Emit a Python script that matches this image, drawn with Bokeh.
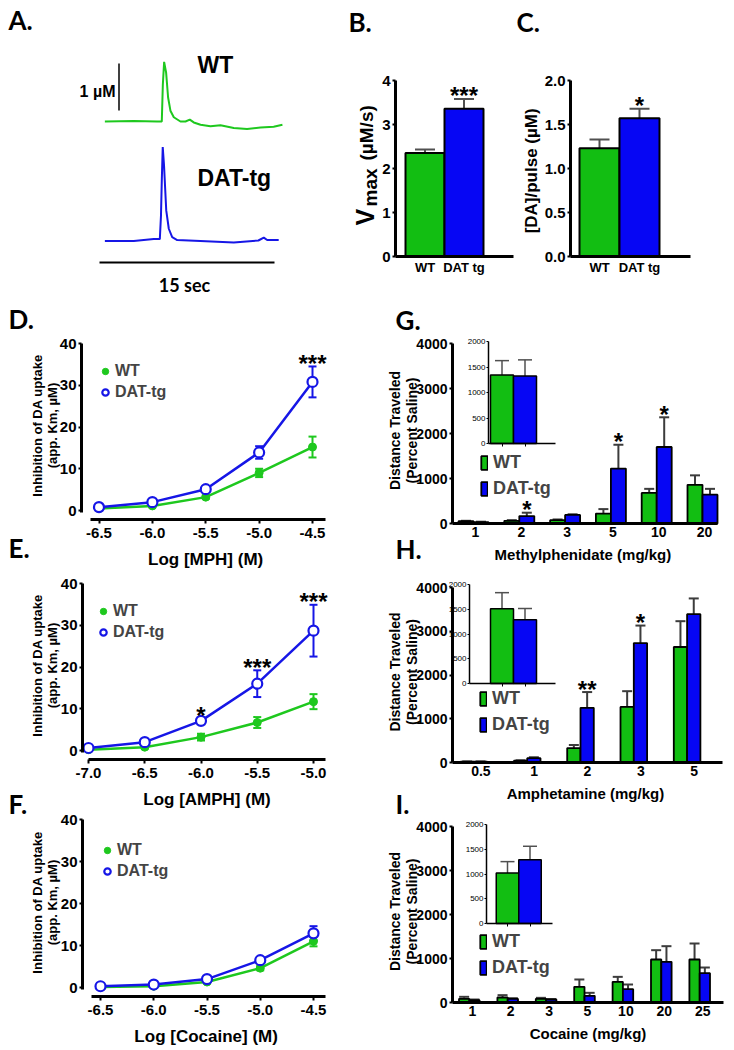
import math
from bokeh.plotting import figure
from bokeh.models import Range1d, Label, Legend, LegendItem, LinearAxis, FixedTicker
from bokeh.embed import file_html
from bokeh.resources import INLINE
from bokeh.core.properties import value

ARIAL = "Liberation Sans"
CAL = "Lato"
GREEN_BAR = "#12BE12"
BLUE_BAR = "#0606F4"
GREEN_LINE = "#1EC81E"
BLUE_LINE = "#1616E6"
ERR = "#3C3C3C"

# ---------------- data ----------------
# A: amperometric traces (time in s, signal in µM)
trace_wt_t = [0.46, 2.94, 4.94, 5.34, 5.43, 5.54, 5.71, 5.88, 6.08, 6.37, 6.94, 7.37, 7.74, 8.08,
              8.66, 9.51, 10.37, 11.51, 12.65, 13.80, 14.93, 15.68]
trace_wt_v = [0.00, 0.01, 0.00, 0.00, 0.79, 1.27, 1.04, 0.51, 0.23, 0.09, 0.00, 0.00, 0.04, -0.02,
              -0.07, -0.10, -0.08, -0.14, -0.16, -0.13, -0.11, -0.07]
trace_dat_t = [0.46, 2.94, 4.65, 5.17, 5.27, 5.34, 5.42, 5.53, 5.72, 5.94, 6.23, 6.66, 8.65, 11.51,
               13.62, 14.08, 14.37, 15.36]
trace_dat_v = [-0.01, -0.01, 0.03, 0.03, 0.53, 1.28, 1.99, 1.60, 0.64, 0.25, 0.07, 0.01, -0.01, -0.04,
               0.00, 0.06, 0.01, 0.01]

# B / C
genotypes = ["WT", "DAT tg"]
vmax = [2.35, 3.36]
vmax_err = [0.08, 0.22]
vmax_sig = ["", "***"]
da_pulse = [1.23, 1.57]
da_pulse_err = [0.10, 0.11]
da_pulse_sig = ["", "*"]

# D: methylphenidate
log_mph = [-6.5, -6.0, -5.5, -5.0, -4.5]
log_mph_labels = ["-6.5", "-6.0", "-5.5", "-5.0", "-4.5"]
mph_wt = [0.5, 1.1, 3.2, 9.0, 15.2]
mph_wt_err = [0.3, 0.3, 0.4, 1.0, 2.5]
mph_dat = [0.8, 2.0, 5.1, 13.9, 30.8]
mph_dat_err = [0.3, 0.4, 0.6, 1.5, 3.7]
mph_sig = ["", "", "", "", "***"]

# E: amphetamine
log_amph = [-7.0, -6.5, -6.0, -5.5, -5.0]
log_amph_labels = ["-7.0", "-6.5", "-6.0", "-5.5", "-5.0"]
amph_wt = [0.2, 0.8, 3.2, 6.7, 11.7]
amph_wt_err = [0.2, 0.3, 0.8, 1.3, 1.8]
amph_dat = [0.6, 2.0, 7.1, 16.0, 28.7]
amph_dat_err = [0.3, 0.4, 0.5, 3.2, 6.2]
amph_sig = ["", "", "*", "***", "***"]

# F: cocaine
log_coc = [-6.5, -6.0, -5.5, -5.0, -4.5]
log_coc_labels = ["-6.5", "-6.0", "-5.5", "-5.0", "-4.5"]
coc_wt = [0.1, 0.3, 1.3, 4.6, 11.0]
coc_wt_err = [0.2, 0.2, 0.3, 0.5, 1.2]
coc_dat = [0.3, 0.7, 2.0, 6.5, 12.9]
coc_dat_err = [0.2, 0.2, 0.3, 0.5, 1.7]
coc_sig = ["", "", "", "", ""]

inhib_ticks = [0, 10, 20, 30, 40]

# G: methylphenidate locomotion (percent saline)
mph_doses = ["1", "2", "3", "5", "10", "20"]
g_wt = [50, 60, 75, 220, 680, 860]
g_wt_err = [10, 15, 15, 100, 90, 210]
g_dat = [30, 165, 190, 1220, 1700, 640]
g_dat_err = [10, 75, 15, 530, 660, 130]
g_sig = ["", "*", "", "*", "*", ""]
g_saline = [1345, 1325]
g_saline_err = [280, 315]

# H: amphetamine locomotion
amph_doses = ["0.5", "1", "2", "3", "5"]
h_wt = [20, 40, 330, 1270, 2640]
h_wt_err = [5, 10, 70, 360, 590]
h_dat = [20, 100, 1250, 2730, 3390]
h_dat_err = [5, 20, 360, 400, 360]
h_sig = ["", "", "**", "*", ""]
h_saline = [1510, 1290]
h_saline_err = [325, 225]

# I: cocaine locomotion
coc_doses = ["1", "2", "3", "5", "10", "20", "25"]
i_wt = [83, 114, 83, 356, 470, 977, 977]
i_wt_err = [46, 53, 23, 167, 113, 212, 364]
i_dat = [53, 83, 68, 152, 303, 924, 667]
i_dat_err = [15, 15, 10, 68, 106, 356, 128]
i_sig = ["", "", "", "", "", "", ""]
i_saline = [1020, 1290]
i_saline_err = [230, 270]

dist_ticks = [0, 1000, 2000, 3000, 4000]
inset_ticks = [0, 500, 1000, 1500, 2000]

# ---------------- canvas ----------------
W, H = 734, 1048
p = figure(width=W, height=H, x_range=Range1d(0, W), y_range=Range1d(H, 0),
           x_axis_location=None, y_axis_location=None, min_border=0,
           output_backend="svg", toolbar_location=None, title_location=None)
p.outline_line_color = None
p.background_fill_color = "white"
p.border_fill_color = "white"
for g in p.grid:
    g.visible = False
XR, YR = {}, {}


def lin(p0, v0, p1, v1):
    k = (v1 - v0) / (p1 - p0)
    return lambda pix: v0 + (pix - p0) * k


def ranges(key, fx, fy):
    XR[key + "x"] = Range1d(fx(0), fx(W))
    YR[key + "y"] = Range1d(fy(H), fy(0))
    return dict(x_range_name=key + "x", y_range_name=key + "y")


def lab(text, X, Y, size, font=ARIAL, align="left", base="middle", angle=0.0, style="bold"):
    p.add_layout(Label(x=X, y=Y, text=text, text_font=font, text_font_size=f"{size}px",
                       text_font_style=style, text_align=align, text_baseline=base,
                       angle=angle, text_color="black"))


def axis(side, r, loc, bounds, ticks, overrides=None, tick_px=15, label=None, label_px=17,
         lw=3, tick_out=3, tick_in=0, tick_lw=2, style="bold", standoff=2, label_standoff=3):
    ax = LinearAxis(fixed_location=loc, bounds=bounds, ticker=FixedTicker(ticks=ticks), **r)
    ax.axis_line_width = lw
    ax.axis_line_color = "black"
    ax.major_tick_line_width = tick_lw
    ax.major_tick_line_color = "black"
    ax.major_tick_in = tick_in
    ax.major_tick_out = tick_out
    ax.minor_tick_line_color = None
    ax.major_label_text_font = ARIAL
    ax.major_label_text_font_style = style
    ax.major_label_text_font_size = f"{tick_px}px"
    ax.major_label_text_color = "black"
    ax.major_label_standoff = standoff
    if overrides is not None:
        ax.major_label_overrides = overrides
    if label:
        ax.axis_label = label
        ax.axis_label_text_font = ARIAL
        ax.axis_label_text_font_style = "bold"
        ax.axis_label_text_font_size = f"{label_px}px"
        ax.axis_label_text_color = "black"
        ax.axis_label_standoff = label_standoff
    p.add_layout(ax, side)
    return ax


def upper_err(r, xs, tops, errs, cap, lw=2, color=ERR):
    ys = [t + e for t, e in zip(tops, errs)]
    p.segment(x0=xs, y0=tops, x1=xs, y1=ys, line_color=color, line_width=lw, **r)
    p.scatter(x=xs, y=ys, marker="dash", size=cap, line_color=color, line_width=lw, **r)


def both_err(r, xs, vals, errs, cap, color, lw=2):
    lo = [v - e for v, e in zip(vals, errs)]
    hi = [v + e for v, e in zip(vals, errs)]
    p.segment(x0=xs, y0=lo, x1=xs, y1=hi, line_color=color, line_width=lw, **r)
    p.scatter(x=xs + xs, y=lo + hi, marker="dash", size=cap, line_color=color, line_width=lw, **r)


def stars(r, xs, ys, labels, size=24, dy=-3):
    keep = [(x, y, s) for x, y, s in zip(xs, ys, labels) if s]
    if not keep:
        return
    p.text(x=[k[0] for k in keep], y=[k[1] for k in keep], text=[k[2] for k in keep],
           text_font=value(ARIAL), text_font_style="bold", text_font_size=f"{size}px",
           text_align="center", text_baseline="middle", y_offset=dy, text_color="black", **r)


# ---------------- Panel A ----------------
tx = lin(99, 0, 274, 15)        # 15 s scale bar
vy = lin(121, 0, 74, 1)         # 1 µM scale bar
rA = ranges("A", tx, vy)
DAT_OFFSET = vy(240)
p.line(trace_wt_t, trace_wt_v, line_color=GREEN_LINE, line_width=2, **rA)
p.line(trace_dat_t, [v + DAT_OFFSET for v in trace_dat_v], line_color=BLUE_LINE, line_width=2, **rA)
SCALE_T, SCALE_V0 = tx(118.5), vy(110)
p.segment(x0=[SCALE_T], y0=[SCALE_V0], x1=[SCALE_T], y1=[SCALE_V0 + 1], line_color="black",
          line_width=1.5, **rA)
TIME_V = vy(262)
p.segment(x0=[0], y0=[TIME_V], x1=[15], y1=[TIME_V], line_color="black", line_width=2, **rA)
lab("A.", 8, 19, 26, font=CAL)
lab("WT", 197, 64, 23)
lab("DAT-tg", 197, 177, 23)
lab("1 µM", 115, 91, 16, align="right")
lab("15 sec", 184, 284, 18, font=CAL, align="center")


# ---------------- Panels B, C ----------------
def small_bar(key, cx0, cdx, y0_px, ytop_px, ytop_val, vals, errs, sig, yticks, ylabels, ax_l, ax_r):
    fx = lin(cx0, 0, cx0 + cdx, 1)
    fy = lin(y0_px, 0, ytop_px, ytop_val)
    r = ranges(key, fx, fy)
    xs = list(range(len(vals)))
    upper_err(r, xs, vals, errs, cap=20, lw=2, color="#505050")
    p.vbar(x=xs, top=vals, width=1, bottom=0, fill_color=[GREEN_BAR, BLUE_BAR],
           line_color="black", line_width=2, **r)
    stars(r, xs, [v + e for v, e in zip(vals, errs)], sig, size=24)
    axis("below", r, 0, (fx(ax_l), fx(ax_r)), xs, {i: g for i, g in enumerate(genotypes)},
         tick_px=13, tick_out=0, standoff=3)
    axis("left", r, fx(ax_l), (0, ytop_val), yticks, {t: s for t, s in zip(yticks, ylabels)},
         tick_px=15, tick_out=3)


small_bar("B", 424.5, 39, 256, 80, 4, vmax, vmax_err, vmax_sig,
          [0, 1, 2, 3, 4], ["0", "1", "2", "3", "4"], 395, 513)
lab("B.", 348, 21, 26, font=CAL)
lab("V", 364, 225, 25, angle=math.pi / 2)
lab("max", 370, 206, 19, angle=math.pi / 2)
lab("(µM/s)", 366, 160, 19, angle=math.pi / 2)

small_bar("C", 599, 40, 256, 80, 2.0, da_pulse, da_pulse_err, da_pulse_sig,
          [0.0, 0.5, 1.0, 1.5, 2.0], ["0.0", "0.5", "1.0", "1.5", "2.0"], 570, 690)
lab("C.", 516, 21, 26, font=CAL)
lab("[DA]/pulse  (µM)", 531, 168, 17, align="center", angle=math.pi / 2)


# ---------------- Panels D, E, F ----------------
def curve_panel(key, fx, fy, xs, xlabels, wt, wt_e, dat, dat_e, sig, xlabel,
                ax_x, ax_y, xb, leg_xy, ycenter):
    r = ranges(key, fx, fy)
    both_err(r, xs, wt, wt_e, 8, GREEN_LINE)
    both_err(r, xs, dat, dat_e, 8, BLUE_LINE)
    p.line(xs, wt, line_color=GREEN_LINE, line_width=2.5, **r)
    p.line(xs, dat, line_color=BLUE_LINE, line_width=2.5, **r)
    r_wt = p.scatter(xs, wt, marker="circle", size=8, fill_color=GREEN_LINE, line_color=GREEN_LINE, **r)
    r_dat = p.scatter(xs, dat, marker="circle", size=10, fill_color="white", line_color=BLUE_LINE,
                      line_width=2.2, **r)
    stars(r, xs, [d + e for d, e in zip(dat, dat_e)], sig, size=24)
    axis("below", r, fy(ax_y), (fx(xb[0]), fx(xb[1])), xs, {x: s for x, s in zip(xs, xlabels)},
         tick_px=15, label=xlabel, label_px=17, tick_out=4, standoff=4, label_standoff=9)
    axis("left", r, fx(ax_x), (fy(ax_y - 7), 40), inhib_ticks, tick_px=15, tick_out=3)
    leg = Legend(items=[LegendItem(label="WT", renderers=[r_wt]),
                        LegendItem(label="DAT-tg", renderers=[r_dat])],
                 location=leg_xy, orientation="vertical", border_line_color=None,
                 background_fill_alpha=0, padding=0, margin=0, spacing=3,
                 glyph_width=16, glyph_height=16, label_height=16, label_standoff=2,
                 label_text_font=ARIAL, label_text_font_style="bold", label_text_font_size="16px")
    p.add_layout(leg)
    lab("Inhibition of DA uptake", 37, ycenter, 13, align="center", angle=math.pi / 2)
    lab("(app. Km, µM)", 52, ycenter, 13, align="center", angle=math.pi / 2)


curve_panel("D", lin(98.5, -6.5, 312, -4.5), lin(510, 0, 343, 40), log_mph, log_mph_labels,
            mph_wt, mph_wt_err, mph_dat, mph_dat_err, mph_sig, "Log  [MPH] (M)",
            81, 519, (90, 325), (97, H - 401), 425)
lab("D.", 8, 318, 26, font=CAL)
lab("E.", 8, 547, 26, font=CAL)

curve_panel("E", lin(88, -7.0, 313, -5.0), lin(750, 0, 583, 40), log_amph, log_amph_labels,
            amph_wt, amph_wt_err, amph_dat, amph_dat_err, amph_sig, "Log [AMPH] (M)",
            82, 759, (88, 325), (95, H - 641), 665)
lab("F.", 8, 803, 26, font=CAL)

curve_panel("F", lin(100, -6.5, 313, -4.5), lin(987, 0, 819, 40), log_coc, log_coc_labels,
            coc_wt, coc_wt_err, coc_dat, coc_dat_err, coc_sig, "Log [Cocaine]  (M)",
            82, 996, (91, 325), (99, H - 880), 902)


# ---------------- Panels G, H, I ----------------
def bar_panel(key, cats, wt, wt_e, dat, dat_e, sig, c0, dc, bw_px, lab_dx, y0_px, y4000_px, x_end,
              xlabel, sal, sal_e, ins, leg_xy):
    fx = lin(c0, 0, c0 + dc, 1)
    fy = lin(y0_px, 0, y4000_px, 4000)
    r = ranges(key, fx, fy)
    idx = list(range(len(cats)))
    w = bw_px / dc
    xw = [i - w / 2 for i in idx]
    xd = [i + w / 2 for i in idx]
    upper_err(r, xw, wt, wt_e, cap=10, lw=2, color=ERR)
    upper_err(r, xd, dat, dat_e, cap=10, lw=2, color=ERR)
    r_wt = p.vbar(x=xw, top=wt, width=w, fill_color=GREEN_BAR, line_color="black", line_width=1.8, **r)
    r_dat = p.vbar(x=xd, top=dat, width=w, fill_color=BLUE_BAR, line_color="black", line_width=1.8, **r)
    stars(r, xd, [d + e for d, e in zip(dat, dat_e)], sig, size=24)
    tick_pos = [i + lab_dx / dc for i in idx]
    axis("below", r, 0, (fx(452), fx(x_end)), tick_pos, {t: c for t, c in zip(tick_pos, cats)},
         tick_px=14, label=xlabel, label_px=15, tick_out=0, standoff=3, label_standoff=6)
    axis("left", r, fx(452), (0, 4000), dist_ticks, tick_px=14, tick_out=3)

    # inset (saline response)
    ix = lin(ins["c0"], 0, ins["c0"] + ins["dc"], 1)
    iy = lin(ins["y0"], 0, ins["y2000"], 2000)
    ri = ranges(key + "i", ix, iy)
    upper_err(ri, [0, 1], sal, sal_e, cap=14, lw=1.5, color="#505050")
    p.vbar(x=[0, 1], top=sal, width=1, fill_color=[GREEN_BAR, BLUE_BAR], line_color="black",
           line_width=1.5, **ri)
    axis("left", ri, ix(ins["ax"]), (0, 2000), inset_ticks, tick_px=8, lw=1.5, tick_out=2,
         tick_lw=1, style="normal", standoff=1)
    axis("below", ri, 0, (ix(ins["ax"]), ix(ins["end"])), [0, 1], {0: "", 1: ""}, tick_px=1,
         lw=1.5, tick_out=3, tick_lw=1)

    leg = Legend(items=[LegendItem(label="WT", renderers=[r_wt]),
                        LegendItem(label="DAT-tg", renderers=[r_dat])],
                 location=leg_xy, orientation="vertical", border_line_color=None,
                 background_fill_alpha=0, padding=0, margin=0, spacing=5,
                 glyph_width=8, glyph_height=17, label_height=17, label_standoff=5,
                 label_text_font=ARIAL, label_text_font_style="bold", label_text_font_size="18px")
    p.add_layout(leg)
    cy = (y0_px + y4000_px) / 2 - 3
    lab("Distance Traveled", 394, cy, 14, align="center", angle=math.pi / 2)
    lab("(Percent Saline)", 411, cy, 14, align="center", angle=math.pi / 2)


bar_panel("G", mph_doses, g_wt, g_wt_err, g_dat, g_dat_err, g_sig, 473, 45.8, 15, 2, 523, 343, 717,
          "Methylphenidate  (mg/kg)", g_saline, g_saline_err,
          dict(c0=501.5, dc=23, y0=443, y2000=341, ax=488, end=555), (480, H - 499))
lab("G.", 395, 319, 26, font=CAL)
lab("H.", 395, 548, 26, font=CAL)

bar_panel("H", amph_doses, h_wt, h_wt_err, h_dat, h_dat_err, h_sig, 473.4, 53.3, 13.3, 7, 762, 587, 722,
          "Amphetamine  (mg/kg)", h_saline, h_saline_err,
          dict(c0=501.5, dc=23, y0=683, y2000=584, ax=469, end=555), (479, H - 735))
lab("I.", 395, 803, 26, font=CAL)

bar_panel("I", coc_doses, i_wt, i_wt_err, i_dat, i_dat_err, i_sig, 468.8, 38.4, 10.3, 3, 1002, 826, 723,
          "Cocaine (mg/kg)", i_saline, i_saline_err,
          dict(c0=507, dc=22.5, y0=923, y2000=824, ax=486, end=552), (479, H - 978))

p.extra_x_ranges = XR
p.extra_y_ranges = YR

open("out.html", "w").write(file_html(p, INLINE))
